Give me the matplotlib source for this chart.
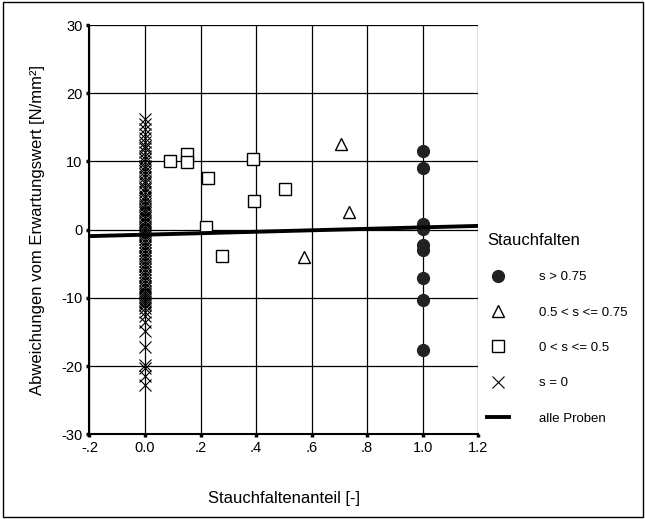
"""
Abweichungen vom Erwartungswert vs. Stauchfaltenanteil, grouped by fold class.
"""

import matplotlib.pyplot as plt
from matplotlib.patches import Rectangle

plt.rcParams['font.family'] = ['Liberation Sans', 'DejaVu Sans']
plt.rcParams['axes.unicode_minus'] = False

# s > 0.75
circ_x = [1.0, 1.0, 1.0, 1.0, 1.0, 1.0, 1.0, 1.0, 1.0]
circ_y = [11.6, 9.0, 0.8, 0.15, -2.3, -3.0, -7.1, -10.3, -17.6]

# 0.5 < s <= 0.75
tri_x = [0.705, 0.733, 0.571]
tri_y = [12.6, 2.6, -4.0]

# 0 < s <= 0.5
sq_x = [0.09, 0.15, 0.15, 0.228, 0.39, 0.394, 0.503, 0.218, 0.278]
sq_y = [10.1, 11.1, 9.9, 7.5, 10.4, 4.2, 6.0, 0.4, -3.8]

# s = 0
cross_y = [16.2, 15.5, 14.8, 14.0, 13.4, 12.8, 12.3, 11.9, 11.4, 10.8, 10.3,
           9.9, 9.4, 9.0, 8.6, 8.1, 7.7, 7.2, 6.8, 6.3, 5.9, 5.5, 5.0, 4.6,
           4.2, 3.8, 3.5, 3.1, 2.8, 2.4, 2.0, 1.7, 1.3, 1.0, 0.6, 0.3, 0.0,
           -0.3, -0.6, -1.0, -1.4, -1.8, -2.2, -2.6, -3.0, -3.4, -3.8, -4.2,
           -4.6, -5.0, -5.4, -5.8, -6.2, -6.6, -7.0, -7.4, -7.8, -8.2, -8.6,
           -9.0, -9.3, -9.6, -9.9, -10.2, -10.5, -10.8, -11.1, -11.5, -12.0,
           -12.6, -13.5, -14.8, -17.2, -19.8, -20.3, -21.5, -22.8]
cross_x = [0.0] * len(cross_y)

# Regression line, all samples
line_x = [-0.2, 1.2]
line_y = [-0.95, 0.55]

xticks = [-0.2, 0.0, 0.2, 0.4, 0.6, 0.8, 1.0, 1.2]
xticklabels = ['-.2', '0.0', '.2', '.4', '.6', '.8', '1.0', '1.2']
yticks = [-30, -20, -10, 0, 10, 20, 30]

fig = plt.figure(figsize=(6.45, 5.19), dpi=100)
ax = fig.add_axes([0.1386, 0.1632, 0.6029, 0.7886])

ax.grid(True, color='black', lw=0.9)
ax.set_axisbelow(True)

ax.plot(circ_x, circ_y, 'o', ms=8.5, color='#222222', mec='#222222', ls='none', label='s > 0.75')
ax.plot(tri_x, tri_y, '^', ms=8, mfc='white', mec='black', mew=1.0, ls='none', label='0.5 < s <= 0.75')
ax.plot(sq_x, sq_y, 's', ms=8, mfc='white', mec='black', mew=1.0, ls='none', label='0 < s <= 0.5')
ax.plot(cross_x, cross_y, 'x', ms=8, color='black', mew=0.8, ls='none', label='s = 0')
ax.plot(line_x, line_y, color='black', lw=2.8, label='alle Proben')

ax.set_xlim(-0.2, 1.2)
ax.set_ylim(-30, 30)
ax.set_xticks(xticks)
ax.set_xticklabels(xticklabels)
ax.set_yticks(yticks)
ax.tick_params(direction='out', length=2, width=2.5, labelsize=10.5, pad=3)

for side in ['top', 'right']:
    ax.spines[side].set_visible(False)
ax.spines['left'].set_linewidth(1.5)
ax.spines['bottom'].set_linewidth(1.5)

ax.set_xlabel('Stauchfaltenanteil [-]', fontsize=12, labelpad=26)
ax.set_ylabel('Abweichungen vom Erwartungswert [N/mm²]', fontsize=12, labelpad=12)

leg = ax.legend(loc='upper left', bbox_to_anchor=(1.01, 0.505), frameon=False,
                title='Stauchfalten', fontsize=9.5, title_fontsize=12,
                labelspacing=1.75, handlelength=1.6, handletextpad=2.3,
                borderaxespad=0)
leg._legend_box.align = 'left'

fig.patches.append(Rectangle((0.004, 0.003), 0.993, 0.994, transform=fig.transFigure,
                             fill=False, edgecolor='black', lw=1.0))

fig.savefig('out.png', dpi=100)
plt.close(fig)
